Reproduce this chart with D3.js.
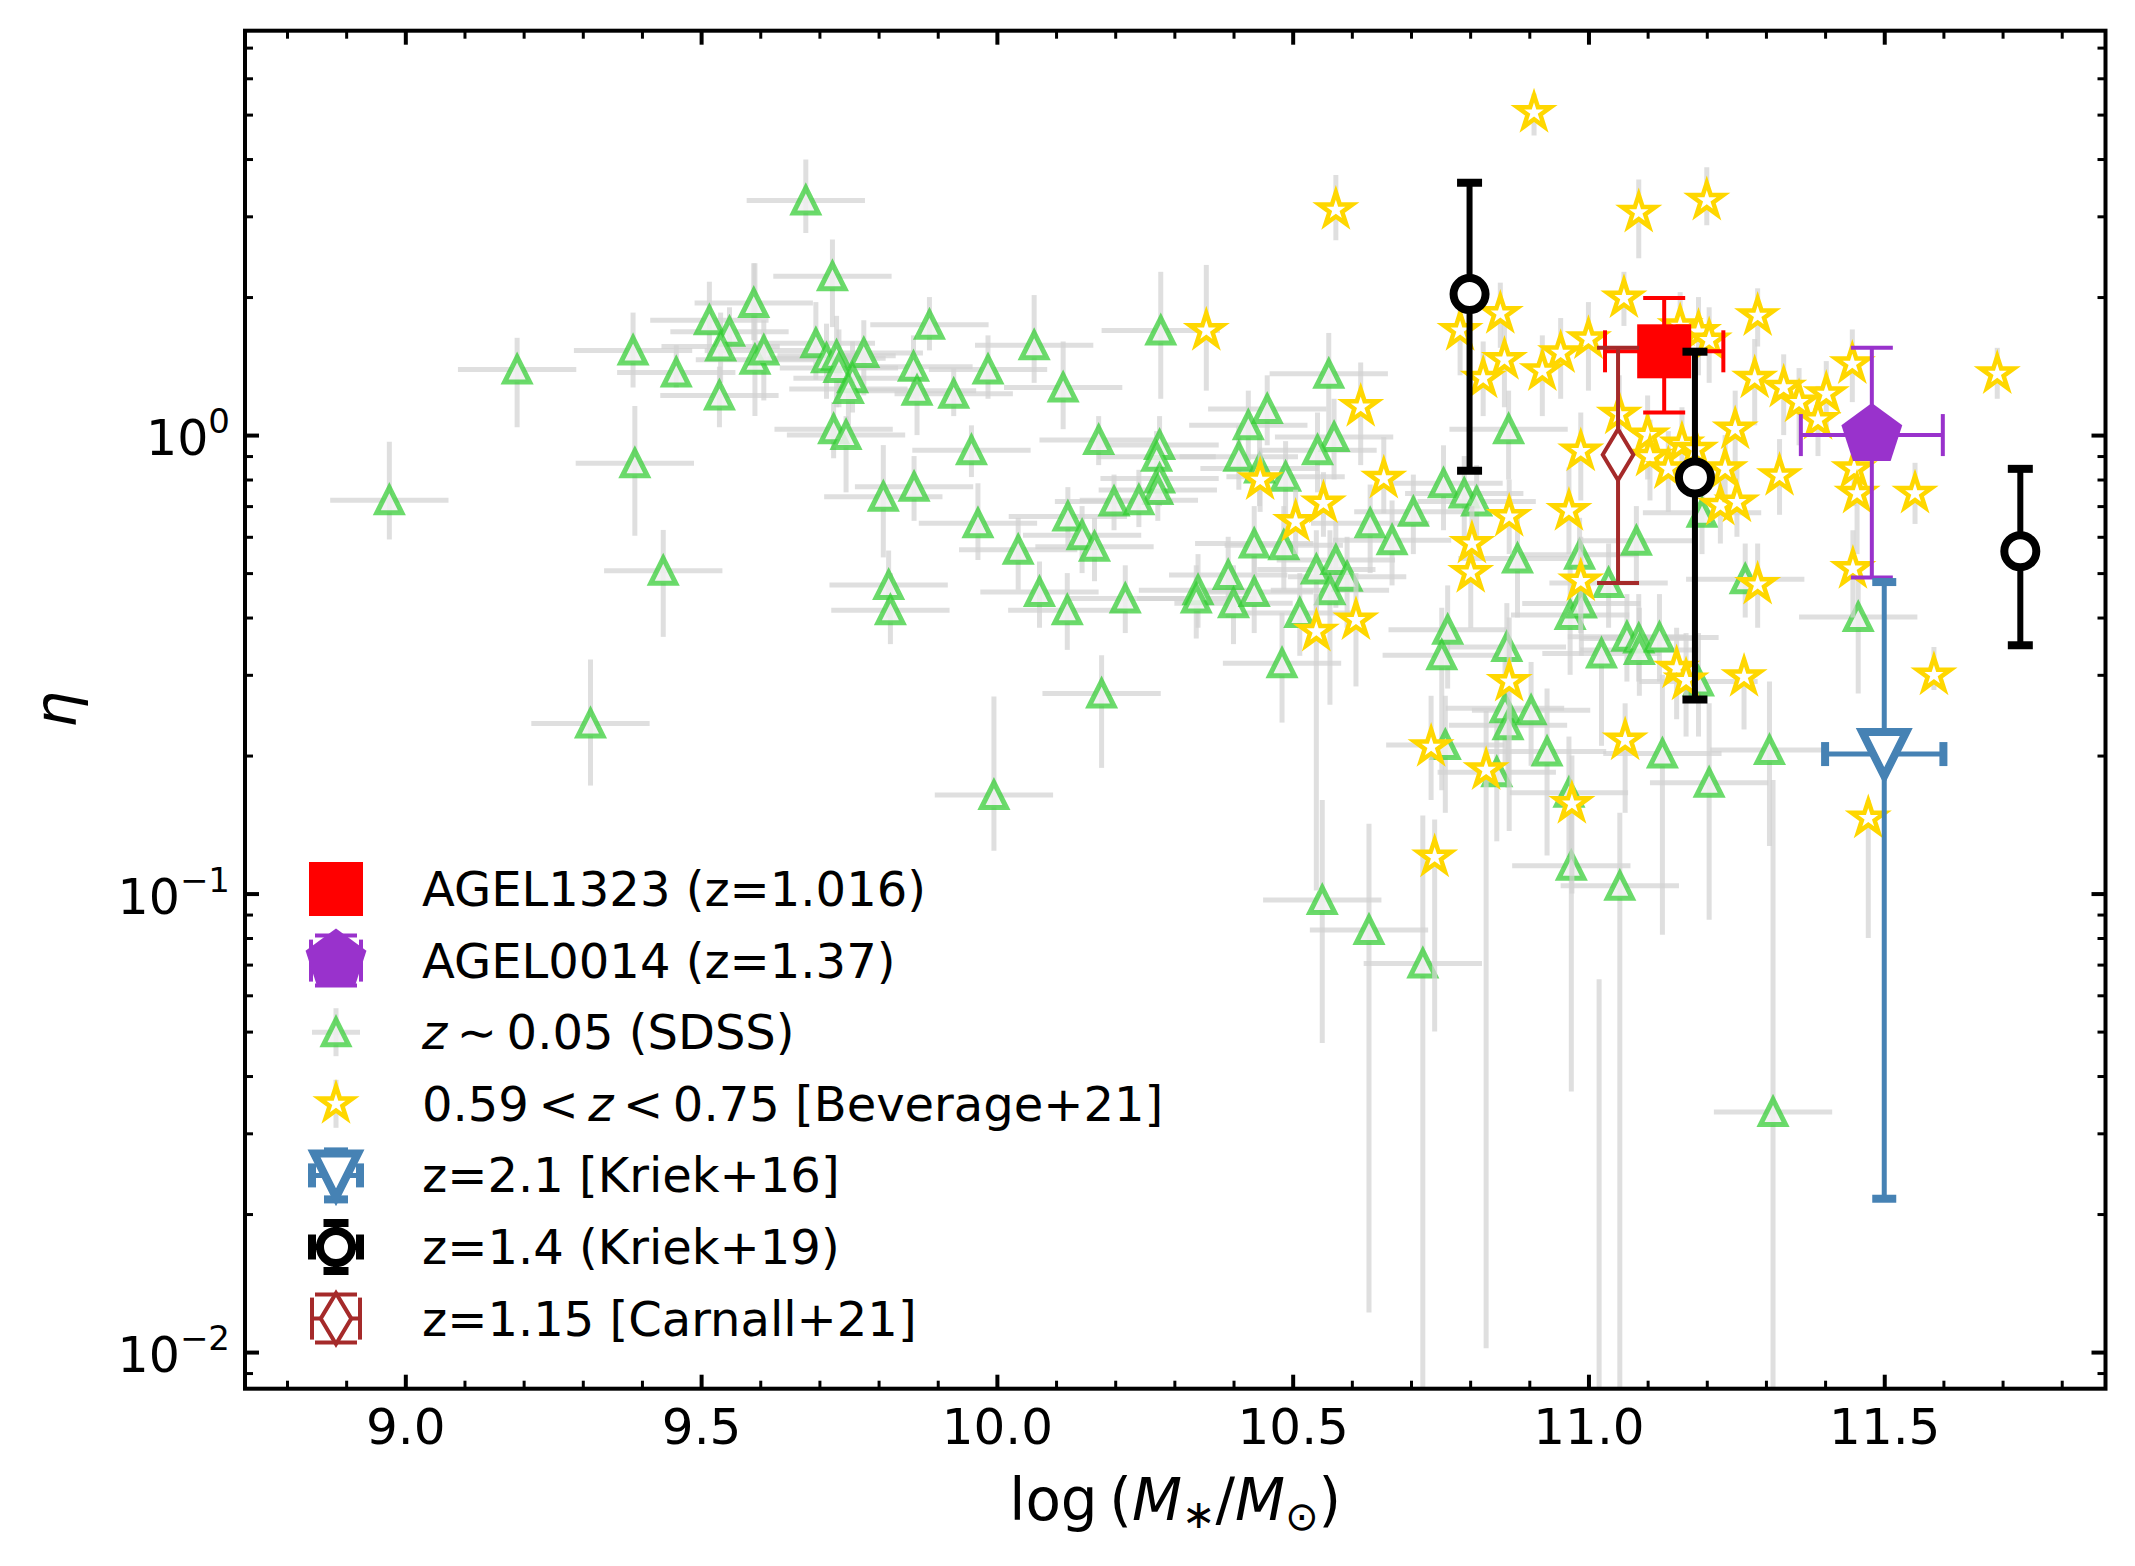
<!DOCTYPE html>
<html>
<head>
<meta charset="utf-8">
<script src="https://cdn.jsdelivr.net/npm/d3@7"></script>
<style>
  body { margin: 0; background: #fff; }
  svg { display: block; font-family: "DejaVu Sans", sans-serif; }
</style>
</head>
<body>
<svg id="chart" width="2135" height="1566"></svg>
<script>
// ---- axis ranges / ticks ----
const massRange = [8.729, 11.874];
const etaRange = [0.00832, 7.62];
const massTicks = [9.0, 9.5, 10.0, 10.5, 11.0, 11.5];
const etaTicks = [0.01, 0.1, 1];
const etaTickExp = ["\u22122", "\u22121", "0"];

// ---- z~0.05 SDSS (triangles): logM, eta, lower / upper end of eta bar ----
const sdssMass = [9.677, 9.722, 9.589, 9.514, 9.548, 9.533, 9.385, 9.458, 9.189, 9.591,
  9.606, 9.531, 9.694, 9.712, 9.729, 9.775, 9.733, 9.756, 9.749, 9.724,
  9.745, 9.388, 8.973, 9.436, 9.808, 9.817, 9.820, 9.313, 9.886, 9.859,
  9.865, 9.927, 9.985, 10.063, 10.112, 10.277, 9.957, 9.860, 9.968, 10.172,
  10.275, 10.270, 10.275, 10.272, 10.198, 10.240, 10.120, 10.144, 10.165, 10.036,
  10.072, 10.119, 10.217, 10.340, 10.337, 10.391, 10.400, 10.435, 10.409, 10.425,
  10.457, 10.444, 10.488, 10.435, 10.485, 10.561, 10.570, 10.542, 10.631, 10.668,
  10.704, 10.755, 10.790, 10.811, 10.865, 10.880, 10.540, 10.573, 10.592, 10.563,
  10.512, 10.762, 10.862, 10.482, 10.177, 9.995, 10.752, 10.859, 10.864, 10.758,
  10.845, 10.550, 10.629, 10.720, 11.456, 10.969, 10.988, 10.903, 10.930, 11.022,
  11.065, 11.085, 11.086, 11.120, 11.186, 11.125, 11.306, 11.204, 10.967, 10.971,
  11.053, 11.312, 11.081, 10.985, 11.034, 11.265, 11.192, 11.018];
const sdssEta = [3.25, 2.22, 1.94, 1.78, 1.68, 1.56, 1.53, 1.37, 1.39, 1.46,
  1.53, 1.22, 1.585, 1.47, 1.49, 1.51, 1.40, 1.33, 1.26, 1.03,
  1.00, 0.868, 0.721, 0.506, 0.734, 0.471, 0.415, 0.235, 1.74, 1.41,
  1.25, 1.23, 1.39, 1.57, 1.27, 1.69, 0.927, 0.771, 0.642, 0.975,
  0.951, 0.897, 0.804, 0.759, 0.716, 0.721, 0.664, 0.605, 0.571, 0.562,
  0.455, 0.415, 0.440, 0.459, 0.440, 0.495, 0.430, 0.455, 0.897, 1.05,
  1.14, 0.846, 0.811, 0.580, 0.575, 1.36, 0.990, 0.927, 0.642, 0.590,
  0.680, 0.785, 0.746, 0.716, 1.03, 0.538, 0.509, 0.534, 0.491, 0.459,
  0.409, 0.376, 0.345, 0.318, 0.273, 0.164, 0.331, 0.2535, 0.233, 0.211,
  0.184, 0.0968, 0.0833, 0.0704, 0.401, 0.405, 0.429, 0.251, 0.204, 0.334,
  0.363, 0.360, 0.340, 0.362, 0.290, 0.202, 0.2056, 0.1745, 0.166, 0.115,
  0.104, 0.0334, 0.588, 0.548, 0.476, 0.485, 0.677, 0.005];
const sdssEtaLo = [2.76, 1.72, 1.61, 1.46, 1.45, 1.30, 1.27, 1.27, 1.04, 1.10,
  1.19, 1.04, 1.32, 1.20, 1.15, 1.22, 1.15, 1.12, 1.05, 0.89,
  0.75, 0.603, 0.592, 0.363, 0.541, 0.40, 0.35, 0.172, 1.53, 1.20,
  1.00, 1.10, 1.20, 1.30, 1.03, 1.20, 0.81, 0.65, 0.534, 0.86,
  0.80, 0.76, 0.70, 0.65, 0.62, 0.63, 0.57, 0.50, 0.48, 0.46,
  0.38, 0.34, 0.37, 0.38, 0.36, 0.40, 0.35, 0.37, 0.76, 0.88,
  0.95, 0.70, 0.66, 0.47, 0.46, 1.00, 0.80, 0.75, 0.50, 0.47,
  0.55, 0.62, 0.60, 0.58, 0.80, 0.40, 0.41, 0.42, 0.38, 0.258,
  0.33, 0.28, 0.27, 0.236, 0.188, 0.124, 0.168, 0.19, 0.17, 0.15,
  0.13, 0.0472, 0.0122, 0.001, 0.273, 0.30, 0.33, 0.19, 0.121, 0.21,
  0.29, 0.29, 0.27, 0.29, 0.22, 0.0813, 0.127, 0.0877, 0.12, 0.037,
  0.001, 0.001, 0.48, 0.44, 0.38, 0.40, 0.55, 0.001];
const sdssEtaHi = [3.99, 2.67, 2.37, 2.16, 1.90, 1.85, 1.85, 1.57, 1.63, 2.37,
  1.78, 1.41, 1.95, 1.75, 1.82, 1.78, 1.70, 1.60, 1.50, 1.18,
  1.10, 1.157, 0.967, 0.621, 0.951, 0.56, 0.50, 0.324, 2.00, 1.65,
  1.45, 1.40, 1.65, 2.02, 1.60, 2.27, 1.05, 0.90, 0.785, 1.10,
  1.10, 1.02, 0.92, 0.88, 0.82, 0.84, 0.77, 0.70, 0.66, 0.66,
  0.53, 0.50, 0.52, 0.55, 0.52, 0.60, 0.52, 0.55, 1.05, 1.25,
  1.35, 1.00, 0.97, 0.70, 0.70, 1.67, 1.20, 1.12, 0.78, 0.72,
  0.82, 0.95, 0.90, 0.86, 1.25, 0.68, 0.62, 0.65, 0.60, 0.62,
  0.50, 0.47, 0.43, 0.41, 0.331, 0.269, 0.42, 0.32, 0.30, 0.27,
  0.24, 0.16, 0.142, 0.148, 0.52, 0.52, 0.55, 0.32, 0.28, 0.36,
  0.45, 0.45, 0.42, 0.45, 0.37, 0.30, 0.29, 0.26, 0.22, 0.16,
  0.15, 0.177, 0.70, 0.66, 0.58, 0.58, 0.80, 0.065];
const sdssMassErr = 0.1;

// ---- 0.59<z<0.75 Beverage+21 (stars) ----
const bevMass = [10.573, 10.354, 10.445, 10.505, 10.552, 10.615, 10.654, 10.783, 10.851, 10.858,
  10.822, 10.866, 10.803, 10.801, 10.540, 10.607, 10.908, 11.085, 11.200, 11.060,
  11.286, 11.000, 10.953, 10.922, 11.155, 11.186, 11.204, 11.281, 11.330, 11.356,
  11.402, 11.388, 11.446, 11.691, 11.052, 11.248, 10.987, 11.100, 11.104, 11.158,
  11.181, 11.135, 11.231, 11.323, 11.449, 11.454, 11.552, 11.223, 11.251, 10.967,
  11.447, 11.286, 10.987, 10.734, 10.740, 10.827, 10.866, 11.149, 11.165, 11.263,
  11.584, 11.062, 10.972, 11.473];
const bevEta = [3.10, 1.69, 0.798, 0.647, 0.710, 1.153, 0.804, 1.69, 1.84, 1.46,
  1.33, 0.664, 0.580, 0.501, 0.373, 0.395, 5.05, 3.06, 3.25, 1.99,
  1.82, 1.62, 1.51, 1.38, 1.73, 1.68, 1.61, 1.33, 1.27, 1.18,
  1.23, 1.08, 1.43, 1.36, 1.11, 1.03, 0.922, 1.00, 0.898, 0.955,
  0.930, 0.844, 0.844, 0.815, 0.844, 0.746, 0.746, 0.702, 0.714, 0.684,
  0.511, 0.472, 0.480, 0.209, 0.120, 0.186, 0.290, 0.310, 0.292, 0.297,
  0.2996, 0.216, 0.157, 0.146];
const bevEtaLo = [2.66, 1.25, 0.68, 0.55, 0.60, 0.86, 0.675, 1.35, 1.55, 1.15,
  1.10, 0.55, 0.48, 0.38, 0.1015, 0.283, 4.50, 2.43, 2.87, 1.73,
  1.56, 1.25, 1.20, 1.10, 1.40, 1.35, 1.30, 1.05, 1.00, 0.95,
  1.00, 0.90, 1.18, 1.20, 0.90, 0.85, 0.72, 0.80, 0.72, 0.78,
  0.75, 0.68, 0.68, 0.67, 0.70, 0.55, 0.64, 0.58, 0.60, 0.55,
  0.40, 0.38, 0.37, 0.16, 0.05, 0.0102, 0.137, 0.24, 0.22, 0.228,
  0.278, 0.15, 0.10, 0.08];
const bevEtaHi = [3.69, 2.35, 0.93, 0.76, 0.83, 1.44, 0.99, 1.95, 2.15, 1.75,
  1.60, 0.80, 0.70, 0.62, 0.45, 0.50, 5.55, 3.61, 3.84, 2.27,
  2.09, 1.95, 1.80, 1.65, 2.05, 2.00, 1.90, 1.62, 1.50, 1.40,
  1.45, 1.28, 1.70, 1.55, 1.35, 1.25, 1.12, 1.22, 1.08, 1.15,
  1.12, 1.02, 1.00, 0.98, 1.00, 0.85, 0.87, 0.85, 0.86, 0.85,
  0.62, 0.58, 0.60, 0.27, 0.145, 0.25, 0.40, 0.38, 0.37, 0.323,
  0.345, 0.26, 0.20, 0.16];

// ---- highlighted objects ----
const agel1323 = {mass: 11.128, eta: 1.523, etaLo: 1.12, etaHi: 1.99, massErr: 0.1};
const agel0014 = {mass: 11.479, eta: 1.0, etaLo: 0.489, etaHi: 1.55, massErr: 0.12};
const kriek16 = {mass: 11.5, eta: 0.2015, etaLo: 0.0216, etaHi: 0.478, massErr: 0.1};
const kriek19Mass = [10.799, 11.18, 11.73];
const kriek19Eta = [2.03, 0.808, 0.558];
const kriek19EtaLo = [0.836, 0.265, 0.348];
const kriek19EtaHi = [3.55, 1.52, 0.844];
const carnall21 = {mass: 11.05, eta: 0.906, etaLo: 0.476, etaHi: 1.55};

const legendLabels = [
  ["AGEL1323 (z=1.016)"],
  ["AGEL0014 (z=1.37)"],
  ["", "z", "\u2009\u223c\u20090.05 (SDSS)"],
  ["0.59\u2009<\u2009", "z", "\u2009<\u20090.75 [Beverage+21]"],
  ["z=2.1 [Kriek+16]"],
  ["z=1.4 (Kriek+19)"],
  ["z=1.15 [Carnall+21]"]
];

// ---- setup ----
const svg = d3.select('#chart');
const plot = {left: 245, right: 2105.5, top: 30.7, bottom: 1388.7};

const x = d3.scaleLinear().domain(massRange).range([plot.left, plot.right]);
const y = d3.scaleLog().domain(etaRange).range([plot.bottom, plot.top]);

const green = '#32cd32', gold = '#ffd700', barGray = '#d3d3d3';

svg.append('defs').append('clipPath').attr('id', 'clip')
  .append('rect')
  .attr('x', plot.left).attr('y', plot.top)
  .attr('width', plot.right - plot.left).attr('height', plot.bottom - plot.top);

const g = svg.append('g').attr('clip-path', 'url(#clip)');

// marker shapes (matplotlib-like)
const triUp = h => `M0,${-h}L${-h},${h}L${h},${h}Z`;
const triDown = h => `M0,${h}L${-h},${-h}L${h},${-h}Z`;
const thinDiamond = h => `M0,${-h}L${0.6*h},0L0,${h}L${-0.6*h},0Z`;
const polyPath = (n, r) => 'M' + d3.range(n).map(k => {
  const a = -Math.PI/2 + k*2*Math.PI/n;
  return [r*Math.cos(a), r*Math.sin(a)].join(',');
}).join('L') + 'Z';
const starPath = R => 'M' + d3.range(10).map(k => {
  const a = -Math.PI/2 + k*Math.PI/5, r = k % 2 ? R*0.382 : R;
  return [r*Math.cos(a), r*Math.sin(a)].join(',');
}).join('L') + 'Z';

// gray error bars for the comparison samples
function grayBars(sel, mass, eta, lo, hi, massErr) {
  const rows = d3.range(mass.length);
  sel.append('g').selectAll('line').data(rows).join('line')
    .attr('x1', i => x(mass[i])).attr('x2', i => x(mass[i]))
    .attr('y1', i => y(lo[i])).attr('y2', i => y(hi[i]))
    .attr('stroke', barGray).attr('stroke-opacity', 0.72).attr('stroke-width', 5);
  if (massErr) {
    sel.append('g').selectAll('line').data(rows).join('line')
      .attr('x1', i => x(mass[i] - massErr)).attr('x2', i => x(mass[i] + massErr))
      .attr('y1', i => y(eta[i])).attr('y2', i => y(eta[i]))
      .attr('stroke', barGray).attr('stroke-opacity', 0.72).attr('stroke-width', 5);
  }
}

// errorbar with caps, in pixel coordinates
function capBar(sel, cx, cy, x0, x1, y0, y1, color, lw, capHalf, capW) {
  const e = sel.append('g').attr('stroke', color);
  e.append('line').attr('x1', cx).attr('x2', cx).attr('y1', y0).attr('y2', y1).attr('stroke-width', lw);
  e.selectAll('line.cy').data([y0, y1]).join('line').attr('class', 'cy')
    .attr('x1', cx - capHalf).attr('x2', cx + capHalf).attr('y1', d => d).attr('y2', d => d)
    .attr('stroke-width', capW);
  if (x0 != null) {
    e.append('line').attr('x1', x0).attr('x2', x1).attr('y1', cy).attr('y2', cy).attr('stroke-width', lw);
    e.selectAll('line.cx').data([x0, x1]).join('line').attr('class', 'cx')
      .attr('x1', d => d).attr('x2', d => d).attr('y1', cy - capHalf).attr('y2', cy + capHalf)
      .attr('stroke-width', capW);
  }
  return e;
}

// ---- SDSS ----
grayBars(g, sdssMass, sdssEta, sdssEtaLo, sdssEtaHi, sdssMassErr);
g.append('g').selectAll('path').data(d3.range(sdssMass.length)).join('path')
  .attr('d', triUp(12.5))
  .attr('transform', i => `translate(${x(sdssMass[i])},${y(sdssEta[i])})`)
  .attr('fill', '#f0f0f0').attr('fill-opacity', 0.85)
  .attr('stroke', green).attr('stroke-opacity', 0.72).attr('stroke-width', 5);

// ---- Beverage+21 ----
grayBars(g, bevMass, bevEta, bevEtaLo, bevEtaHi, 0);
g.append('g').selectAll('path').data(d3.range(bevMass.length)).join('path')
  .attr('d', starPath(17.5))
  .attr('transform', i => `translate(${x(bevMass[i])},${y(bevEta[i])})`)
  .attr('fill', '#fff').attr('stroke', gold).attr('stroke-width', 4.5)
  .attr('stroke-linejoin', 'miter');

// ---- AGEL1323 ----
{
  const d = agel1323, cx = x(d.mass), cy = y(d.eta);
  capBar(g, cx, cy, x(d.mass - d.massErr), x(d.mass + d.massErr), y(d.etaLo), y(d.etaHi), 'red', 4, 21, 4);
  g.append('rect').attr('x', cx - 27).attr('y', cy - 27).attr('width', 54).attr('height', 54).attr('fill', 'red');
}
// ---- AGEL0014 ----
{
  const d = agel0014, cx = x(d.mass), cy = y(d.eta);
  capBar(g, cx, cy, x(d.mass - d.massErr), x(d.mass + d.massErr), y(d.etaLo), y(d.etaHi), '#9932cc', 4, 21, 4);
  g.append('path').attr('d', polyPath(5, 32)).attr('transform', `translate(${cx},${cy})`).attr('fill', '#9932cc');
}
// ---- Kriek+16 ----
{
  const d = kriek16, cx = x(d.mass), cy = y(d.eta);
  capBar(g, cx, cy, x(d.mass - d.massErr), x(d.mass + d.massErr), y(d.etaLo), y(d.etaHi), 'steelblue', 5, 12, 8);
  g.append('path').attr('d', triDown(22)).attr('transform', `translate(${cx},${cy})`)
    .attr('fill', '#fff').attr('stroke', 'steelblue').attr('stroke-width', 8);
}
// ---- Kriek+19 ----
kriek19Mass.forEach((m, i) => {
  const cx = x(m), cy = y(kriek19Eta[i]);
  capBar(g, cx, cy, null, null, y(kriek19EtaLo[i]), y(kriek19EtaHi[i]), 'black', 6, 12.5, 8);
  g.append('circle').attr('cx', cx).attr('cy', cy).attr('r', 16)
    .attr('fill', '#fff').attr('stroke', 'black').attr('stroke-width', 8);
});
// ---- Carnall+21 ----
{
  const d = carnall21, cx = x(d.mass), cy = y(d.eta);
  capBar(g, cx, cy, null, null, y(d.etaLo), y(d.etaHi), 'brown', 4, 21, 4);
  g.append('path').attr('d', thinDiamond(25.5)).attr('transform', `translate(${cx},${cy})`)
    .attr('fill', '#fff').attr('stroke', 'brown').attr('stroke-width', 4);
}

// ---- axes: ticks point inward on all four sides ----
const axG = svg.append('g');
const minorX = d3.range(8.8, 11.85, 0.1).map(v => +v.toFixed(1)).filter(v => !massTicks.includes(v));
const minorY = [];
[0.001, 0.01, 0.1, 1].forEach(dec => d3.range(2, 10).forEach(k => {
  const v = dec * k;
  if (v > etaRange[0] && v < etaRange[1]) minorY.push(v);
}));

function tickStyle(sel, w) {
  sel.select('.domain').remove();
  sel.selectAll('line').attr('stroke', 'black').attr('stroke-width', w);
}

axG.append('g').attr('transform', `translate(0,${plot.bottom})`)
  .call(d3.axisBottom(x).tickValues(massTicks).tickSize(-14).tickPadding(20).tickFormat(d3.format('.1f')))
  .call(s => tickStyle(s, 4))
  .call(s => s.selectAll('text').attr('font-size', 50).attr('fill', 'black').attr('font-family', '"DejaVu Sans"'));
axG.append('g').attr('transform', `translate(0,${plot.bottom})`)
  .call(d3.axisBottom(x).tickValues(minorX).tickSize(-8).tickFormat(''))
  .call(s => tickStyle(s, 3));
axG.append('g').attr('transform', `translate(0,${plot.top})`)
  .call(d3.axisTop(x).tickValues(massTicks).tickSize(-14).tickFormat(''))
  .call(s => tickStyle(s, 4));
axG.append('g').attr('transform', `translate(0,${plot.top})`)
  .call(d3.axisTop(x).tickValues(minorX).tickSize(-8).tickFormat(''))
  .call(s => tickStyle(s, 3));

axG.append('g').attr('transform', `translate(${plot.left},0)`)
  .call(d3.axisLeft(y).tickValues(etaTicks).tickSize(-14).tickFormat(''))
  .call(s => tickStyle(s, 4));
axG.append('g').attr('transform', `translate(${plot.left},0)`)
  .call(d3.axisLeft(y).tickValues(minorY).tickSize(-8).tickFormat(''))
  .call(s => tickStyle(s, 3));
axG.append('g').attr('transform', `translate(${plot.right},0)`)
  .call(d3.axisRight(y).tickValues(etaTicks).tickSize(-14).tickFormat(''))
  .call(s => tickStyle(s, 4));
axG.append('g').attr('transform', `translate(${plot.right},0)`)
  .call(d3.axisRight(y).tickValues(minorY).tickSize(-8).tickFormat(''))
  .call(s => tickStyle(s, 3));

// y tick labels 10^n
const yLab = axG.append('g').selectAll('text').data(etaTicks).join('text')
  .attr('x', plot.left - 15).attr('y', d => y(d) + 20)
  .attr('text-anchor', 'end').attr('font-size', 49);
yLab.append('tspan').text('10');
yLab.append('tspan').attr('font-size', 34).attr('dy', -22).text((d, i) => etaTickExp[i]);

// frame
axG.append('rect')
  .attr('x', plot.left).attr('y', plot.top)
  .attr('width', plot.right - plot.left).attr('height', plot.bottom - plot.top)
  .attr('fill', 'none').attr('stroke', 'black').attr('stroke-width', 4);

// axis labels
const xl = svg.append('text').attr('x', (plot.left + plot.right) / 2).attr('y', 1520)
  .attr('text-anchor', 'middle').attr('font-size', 58);
xl.append('tspan').text('log\u2009(');
xl.append('tspan').attr('font-style', 'italic').text('M');
xl.append('tspan').attr('font-size', 40).attr('dy', 8).text('\u2217');
xl.append('tspan').attr('dy', -8).text('/');
xl.append('tspan').attr('font-style', 'italic').text('M');
xl.append('tspan').attr('font-size', 40).attr('dy', 10).text('\u2299');
xl.append('tspan').attr('dy', -10).text(')');

svg.append('text').attr('transform', `translate(76,${(plot.top + plot.bottom) / 2}) rotate(-90)`)
  .attr('text-anchor', 'middle').attr('font-size', 58).attr('font-style', 'italic').text('\u03b7');

// ---- legend ----
const leg = svg.append('g');
const legX = 336, legRow0 = 889, legStep = 71.6;
const rowY = i => legRow0 + i * legStep;

function legendBars(i, color, lw, capHalf, capW, half) {
  const cy = rowY(i);
  capBar(leg, legX, cy, legX - half, legX + half, cy - half, cy + half, color, lw, capHalf, capW);
}
// AGEL1323
legendBars(0, 'red', 4, 21, 4, 25);
leg.append('rect').attr('x', legX - 27).attr('y', rowY(0) - 27).attr('width', 54).attr('height', 54).attr('fill', 'red');
// AGEL0014
legendBars(1, '#9932cc', 4, 21, 4, 25);
leg.append('path').attr('d', polyPath(5, 32)).attr('transform', `translate(${legX},${rowY(1)})`).attr('fill', '#9932cc');
// SDSS
leg.append('g').attr('stroke', barGray).attr('stroke-opacity', 0.72).attr('stroke-width', 5)
  .call(s => {
    s.append('line').attr('x1', legX - 24).attr('x2', legX + 24).attr('y1', rowY(2)).attr('y2', rowY(2));
    s.append('line').attr('x1', legX).attr('x2', legX).attr('y1', rowY(2) - 24).attr('y2', rowY(2) + 24);
  });
leg.append('path').attr('d', triUp(12.5)).attr('transform', `translate(${legX},${rowY(2)})`)
  .attr('fill', '#f0f0f0').attr('fill-opacity', 0.85)
  .attr('stroke', green).attr('stroke-opacity', 0.72).attr('stroke-width', 5);
// Beverage
leg.append('line').attr('x1', legX).attr('x2', legX).attr('y1', rowY(3) - 24).attr('y2', rowY(3) + 24)
  .attr('stroke', barGray).attr('stroke-opacity', 0.72).attr('stroke-width', 5);
leg.append('path').attr('d', starPath(17.5)).attr('transform', `translate(${legX},${rowY(3)})`)
  .attr('fill', '#fff').attr('stroke', gold).attr('stroke-width', 4.5);
// Kriek+16
legendBars(4, 'steelblue', 5, 12, 8, 24);
leg.append('path').attr('d', triDown(22)).attr('transform', `translate(${legX},${rowY(4)})`)
  .attr('fill', '#fff').attr('stroke', 'steelblue').attr('stroke-width', 8);
// Kriek+19
legendBars(5, 'black', 6, 12.5, 8, 24);
leg.append('circle').attr('cx', legX).attr('cy', rowY(5)).attr('r', 16)
  .attr('fill', '#fff').attr('stroke', 'black').attr('stroke-width', 8);
// Carnall+21
legendBars(6, 'brown', 4, 21, 4, 24);
leg.append('path').attr('d', thinDiamond(25.5)).attr('transform', `translate(${legX},${rowY(6)})`)
  .attr('fill', '#fff').attr('stroke', 'brown').attr('stroke-width', 4);

const legText = leg.append('g').selectAll('text').data(legendLabels).join('text')
  .attr('x', 422).attr('y', (d, i) => rowY(i) + 17).attr('font-size', 48);
legText.each(function(parts) {
  const t = d3.select(this);
  parts.forEach((p, k) => {
    const span = t.append('tspan').text(p);
    if (k === 1) span.attr('font-style', 'italic');
  });
});
</script>
</body>
</html>
